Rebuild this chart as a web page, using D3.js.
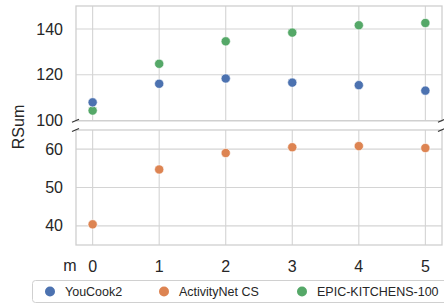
<!DOCTYPE html>
<html lang="en">
<head>
<meta charset="utf-8">
<title>RSum vs m</title>
<script src="https://cdn.jsdelivr.net/npm/d3@7/dist/d3.min.js"></script>
<style>
    body { margin: 0; background: #fff; }
    svg { display: block; font-family: "Liberation Sans", Arial, sans-serif; }
    .grid line { stroke: #d4d4d4; stroke-width: 1.1; }
    .spine { fill: none; stroke: #cfcfcf; stroke-width: 1.3; }
    .tick-label { font-size: 16px; fill: #262626; }
    .legend text { font-size: 12.5px; fill: #262626; }
</style>
</head>
<body>
<svg width="444" height="306"></svg>
<script>
    // data
    const mValues = [0, 1, 2, 3, 4, 5];
    const youcook2 = [108.0, 116.1, 118.4, 116.6, 115.5, 113.1];
    const activitynet = [40.4, 54.7, 59.0, 60.5, 60.8, 60.3];
    const epicKitchens = [104.4, 124.8, 134.6, 138.4, 141.6, 142.6];
    const seriesNames = ["YouCook2", "ActivityNet CS", "EPIC-KITCHENS-100"];
    const seriesColors = ["#4C72B0", "#DD8452", "#55A868"];
    const topTicks = [100, 120, 140];
    const bottomTicks = [40, 50, 60];

    const svg = d3.select("svg");

    const left = 76, right = 442;
    const x = d3.scaleLinear().domain([-0.25, 5.25]).range([left, right]);
    const yTop = d3.scaleLinear().domain([100, 150]).range([120.7, 6]);
    const yBot = d3.scaleLinear().domain([35, 65]).range([245, 130]);

    function drawPanel(y, ticks, showXLabels) {
        const [y1, y0] = y.range();
        const g = svg.append("g");
        const grid = g.append("g").attr("class", "grid");

        grid.selectAll(".h")
            .data(ticks)
            .enter().append("line")
            .attr("x1", left).attr("x2", right)
            .attr("y1", d => y(d)).attr("y2", d => y(d));

        grid.selectAll(".v")
            .data(mValues)
            .enter().append("line")
            .attr("x1", d => x(d)).attr("x2", d => x(d))
            .attr("y1", y0).attr("y2", y1);

        g.append("rect")
            .attr("class", "spine")
            .attr("x", left).attr("y", y0)
            .attr("width", right - left).attr("height", y1 - y0);

        g.selectAll(".ylab")
            .data(ticks)
            .enter().append("text")
            .attr("class", "tick-label")
            .attr("x", left - 13)
            .attr("y", d => y(d))
            .attr("dy", "0.35em")
            .attr("text-anchor", "end")
            .text(d => d);
        return g;
    }

    const topPanel = drawPanel(yTop, topTicks);
    const botPanel = drawPanel(yBot, bottomTicks);

    // break marks
    const breaks = [yTop.range()[0], yBot.range()[1]];
    [left, right].forEach(px => {
        breaks.forEach(py => {
            svg.append("line")
                .attr("x1", px - 4).attr("y1", py + 1.5)
                .attr("x2", px + 3).attr("y2", py - 1.5)
                .attr("stroke", "#333").attr("stroke-width", 1.2);
        });
    });

    // points
    function drawPoints(panel, values, color) {
        panel.selectAll(null)
            .data(values)
            .enter().append("circle")
            .attr("cx", (d, i) => x(mValues[i]))
            .attr("cy", (d, i) => panel.y(d))
            .attr("r", 4.6)
            .attr("fill", color)
            .attr("stroke", "#fff")
            .attr("stroke-width", 0.6);
    }
    topPanel.y = yTop;
    botPanel.y = yBot;
    drawPoints(topPanel, epicKitchens, seriesColors[2]);
    drawPoints(topPanel, youcook2, seriesColors[0]);
    drawPoints(botPanel, activitynet, seriesColors[1]);

    // x tick labels
    svg.selectAll(".xlab")
        .data(mValues)
        .enter().append("text")
        .attr("class", "tick-label")
        .attr("x", d => x(d))
        .attr("y", 266)
        .attr("dy", "0.35em")
        .attr("text-anchor", "middle")
        .text(d => d);

    svg.append("text")
        .attr("class", "tick-label")
        .attr("x", 70)
        .attr("y", 265)
        .attr("dy", "0.35em")
        .attr("text-anchor", "middle")
        .text("m");

    svg.append("text")
        .attr("class", "tick-label")
        .attr("transform", "translate(24,127) rotate(-90)")
        .attr("text-anchor", "middle")
        .text("RSum");

    // legend
    const legend = svg.append("g").attr("class", "legend");
    legend.append("rect")
        .attr("x", 32.5).attr("y", 280.5)
        .attr("width", 420).attr("height", 22)
        .attr("rx", 3)
        .attr("fill", "#fff")
        .attr("stroke", "#d0d0d0");

    const legendX = [50, 164, 302];
    seriesNames.forEach((name, i) => {
        legend.append("circle")
            .attr("cx", legendX[i]).attr("cy", 291.5)
            .attr("r", 5).attr("fill", seriesColors[i]);
        legend.append("text")
            .attr("x", legendX[i] + 15).attr("y", 291.5)
            .attr("dy", "0.35em")
            .text(name);
    });
</script>
</body>
</html>
